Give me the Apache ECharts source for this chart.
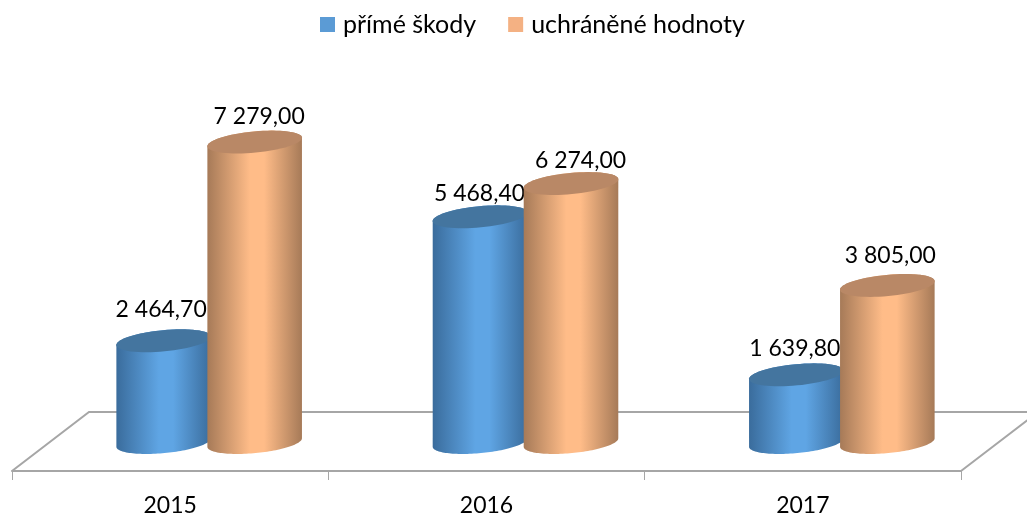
<!DOCTYPE html>
<html>
<head>
<meta charset="utf-8">
<style>html,body{margin:0;padding:0;background:#fff}#c{width:1027px;height:515px}</style>
<script src="https://cdn.jsdelivr.net/npm/echarts@6/dist/echarts.min.js"></script>
</head>
<body>
<div id="c"></div>
<script>
var categories = ['2015', '2016', '2017'];
var directDamage = [2464.7, 5468.4, 1639.8];
var savedValues = [7279, 6274, 3805];
var seriesNames = ['přímé škody', 'uchráněné hodnoty'];

var FONT = 'Lato, "Open Sans", sans-serif';
var FS = 23;
var AXIS_DROP = 28.5;
var RX = 47.5, RY = 10.6, TILT = 5.4 * Math.PI / 180;

var palette = {
  blue: { edge: '#3A6C9C', mid: '#5FA5E4', top: '#44759F', swatch: '#5B9BD5' },
  orange: { edge: '#A67A58', mid: '#FFBC88', top: '#B98866', swatch: '#F4B183' }
};

function fmt(v) {
  var s = v.toFixed(2).split('.');
  return s[0].replace(/\B(?=(\d{3})+$)/g, ' ') + ',' + s[1];
}

function ellipsePts(cx, cy, from, to) {
  var pts = [], n = 64;
  for (var i = 0; i <= n; i++) {
    var t = from + (to - from) * i / n;
    var ex = RX * Math.cos(t), ey = RY * Math.sin(t);
    pts.push([
      cx + ex * Math.cos(TILT) + ey * Math.sin(TILT),
      cy - ex * Math.sin(TILT) + ey * Math.cos(TILT)
    ]);
  }
  return pts;
}

function cylinder(colors, shift, nudges) {
  return function (params, api) {
    var i = api.value(0), v = api.value(1);
    var top = api.coord([i, v]), base = api.coord([i, 0]);
    var cx = top[0] + shift;
    var body = ellipsePts(cx, base[1], 0, Math.PI).concat(ellipsePts(cx, top[1], Math.PI, 2 * Math.PI));
    return {
      type: 'group',
      children: [
        {
          type: 'polygon',
          shape: { points: body },
          style: {
            fill: new echarts.graphic.LinearGradient(0, 0, 1, 0, [
              { offset: 0, color: colors.edge },
              { offset: 0.45, color: colors.mid },
              { offset: 0.6, color: colors.mid },
              { offset: 1, color: colors.edge }
            ])
          }
        },
        {
          type: 'polygon',
          shape: { points: ellipsePts(cx, top[1], 0, 2 * Math.PI) },
          style: { fill: colors.top }
        },
        {
          type: 'text',
          z2: 100,
          style: {
            text: fmt(v),
            x: cx + nudges[i][0],
            y: top[1] + nudges[i][1],
            align: 'center',
            verticalAlign: 'middle',
            fill: '#000',
            font: FS + 'px ' + FONT
          }
        }
      ]
    };
  };
}

function floor(params, api) {
  var cs = params.coordSys;
  var y = cs.y + cs.height + AXIS_DROP;
  var x0 = cs.x, x1 = cs.x + cs.width;
  var dx = 77, dy = 59;
  return {
    type: 'polyline',
    silent: true,
    shape: { points: [[x0, y], [x0 + dx, y - dy], [x1 + dx, y - dy], [x1, y]] },
    style: { stroke: '#A6A6A6', lineWidth: 2, fill: null }
  };
}

function toData(arr) { return arr.map(function (v, i) { return [i, v]; }); }

var chart = echarts.init(document.getElementById('c'), null, { renderer: 'canvas' });
chart.setOption({
  animation: false,
  backgroundColor: '#fff',
  legend: {
    left: 315,
    top: 7,
    itemWidth: 15,
    itemHeight: 15,
    itemGap: 32,
    icon: 'rect',
    textStyle: { fontFamily: FONT, fontSize: 25, color: '#000', padding: [0, 0, 0, 3] },
    data: [
      { name: seriesNames[0], itemStyle: { color: palette.blue.swatch } },
      { name: seriesNames[1], itemStyle: { color: palette.orange.swatch } }
    ]
  },
  grid: { left: 12, right: 66, bottom: 72.5, height: 330.2, containLabel: false, outerBoundsMode: 'none' },
  xAxis: {
    type: 'category',
    data: categories,
    offset: AXIS_DROP,
    axisLine: { onZero: false, lineStyle: { color: '#A6A6A6', width: 2 } },
    axisTick: { show: true, length: 9, lineStyle: { color: '#A6A6A6', width: 1 } },
    axisLabel: { fontFamily: FONT, fontSize: FS, color: '#000', margin: 23 }
  },
  yAxis: { type: 'value', min: 0, max: 8000, show: false },
  series: [
    { type: 'custom', name: 'floor', z: 1, silent: true, data: [[0, 0]], renderItem: floor, encode: { x: 0, y: 1 } },
    {
      type: 'custom', name: seriesNames[0], z: 2,
      itemStyle: { color: palette.blue.swatch },
      data: toData(directDamage), encode: { x: 0, y: 1 },
      renderItem: cylinder(palette.blue, -6.5, [[-2.5, -31], [-0.5, -23], [-1.5, -26]])
    },
    {
      type: 'custom', name: seriesNames[1], z: 3,
      itemStyle: { color: palette.orange.swatch },
      data: toData(savedValues), encode: { x: 0, y: 1 },
      renderItem: cylinder(palette.orange, 84.5, [[4.5, -25], [9.5, -23], [3, -30]])
    }
  ]
});
</script>
</body>
</html>
